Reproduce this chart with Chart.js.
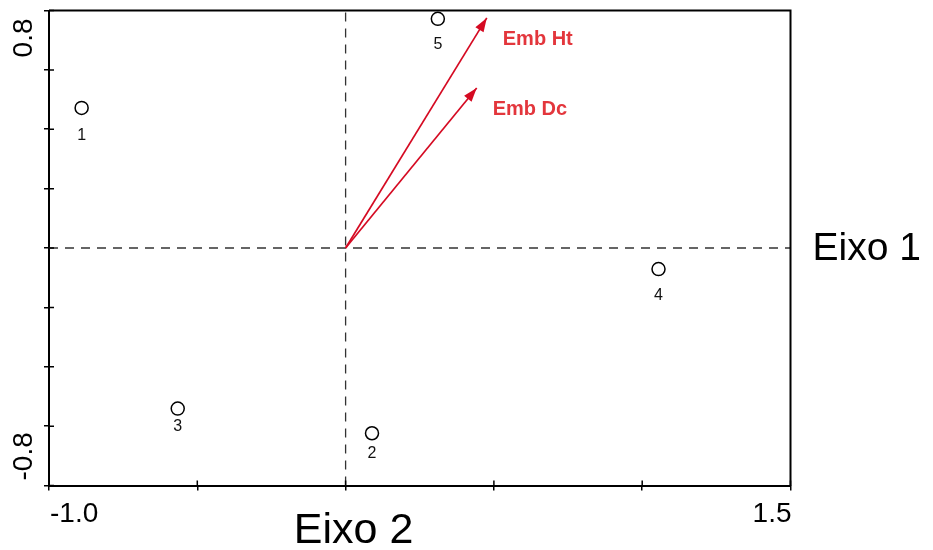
<!DOCTYPE html>
<html>
<head>
<meta charset="utf-8">
<title>Eixo 1 x Eixo 2</title>
<script src="https://cdn.jsdelivr.net/npm/chart.js"></script>
<style>
  html, body { margin: 0; padding: 0; background: #fff; }
  #wrap { width: 933px; height: 550px; position: relative; }
</style>
</head>
<body>
<div id="wrap"><canvas id="biplot"></canvas></div>
<script>
// samples (open circles)
const sampleLabels = ['1', '2', '3', '4', '5'];
const sampleX = [-0.890, 0.089, -0.566, 1.055, 0.311];
const sampleY = [0.472, -0.624, -0.541, -0.071, 0.772];

// variables (arrows from origin)
const varNames = ['Emb Ht', 'Emb Dc'];
const varX = [0.476, 0.442];
const varY = [0.775, 0.539];

// axes
const xMin = -1.0, xMax = 1.5;
const yMin = -0.8, yMax = 0.8;
const xTicks = [-1.0, -0.5, 0, 0.5, 1.0, 1.5];
const yTicks = [-0.8, -0.6, -0.4, -0.2, 0, 0.2, 0.4, 0.6, 0.8];
const xTickLabels = ['-1.0', '1.5'];
const yTickLabels = ['-0.8', '0.8'];
const axisTitles = ['Eixo 1', 'Eixo 2'];

const FONT = '"Liberation Sans", Arial, sans-serif';
const ARROW_RED = '#d50a22';
const LABEL_RED = '#e3363c';

const arrowSets = varNames.map((name, i) => ({
  label: name,
  type: 'line',
  data: [{ x: 0, y: 0 }, { x: varX[i], y: varY[i] }],
  borderColor: ARROW_RED,
  borderWidth: 1.7,
  pointRadius: 0,
  fill: false,
  clip: false
}));

const zeroLine = (pts) => ({
  type: 'line',
  data: pts,
  borderColor: '#333',
  borderWidth: 1.3,
  borderDash: [9, 7],
  pointRadius: 0,
  fill: false,
  clip: false
});

const biplotDecor = {
  id: 'biplotDecor',
  afterDatasetsDraw(chart) {
    const { ctx, chartArea: area, scales: { x, y } } = chart;
    ctx.save();

    // frame: top and right
    ctx.strokeStyle = '#000';
    ctx.lineWidth = 2;
    ctx.beginPath();
    ctx.moveTo(area.left, area.top);
    ctx.lineTo(area.right, area.top);
    ctx.lineTo(area.right, area.bottom);
    ctx.stroke();

    // inner half of the tick marks
    ctx.lineWidth = 1.5;
    ctx.beginPath();
    xTicks.forEach(v => {
      const px = x.getPixelForValue(v);
      ctx.moveTo(px, area.bottom);
      ctx.lineTo(px, area.bottom - 5);
    });
    yTicks.forEach(v => {
      const py = y.getPixelForValue(v);
      ctx.moveTo(area.left, py);
      ctx.lineTo(area.left + 5, py);
    });
    ctx.stroke();

    // arrow heads
    const arrowMetas = chart.getSortedVisibleDatasetMetas().filter(m => varNames.includes(m.label));
    arrowMetas.forEach(meta => {
      const p0 = meta.data[0], p1 = meta.data[1];
      const ang = Math.atan2(p1.y - p0.y, p1.x - p0.x);
      const len = 14, half = 4.8;
      ctx.save();
      ctx.translate(p1.x, p1.y);
      ctx.rotate(ang);
      ctx.fillStyle = ARROW_RED;
      ctx.beginPath();
      ctx.moveTo(0, 0);
      ctx.lineTo(-len, -half);
      ctx.lineTo(-len, half);
      ctx.closePath();
      ctx.fill();
      ctx.restore();

      ctx.fillStyle = LABEL_RED;
      ctx.font = 'bold 20px ' + FONT;
      ctx.textAlign = 'left';
      ctx.textBaseline = 'alphabetic';
      ctx.fillText(meta.label, p1.x + 16, p1.y + 27);
    });

    // sample labels under the circles
    const offsets = [28, 20, 18, 27, 26];
    const pts = chart.getDatasetMeta(0).data;
    ctx.fillStyle = '#111';
    ctx.font = '16px ' + FONT;
    ctx.textAlign = 'center';
    ctx.textBaseline = 'middle';
    pts.forEach((p, i) => ctx.fillText(sampleLabels[i], p.x, p.y + offsets[i]));

    // tick labels at the axis ends
    ctx.fillStyle = '#000';
    ctx.font = '28px ' + FONT;
    ctx.textBaseline = 'alphabetic';
    ctx.textAlign = 'left';
    ctx.fillText(xTickLabels[0], x.getPixelForValue(xMin) + 1, area.bottom + 36);
    ctx.textAlign = 'right';
    ctx.fillText(xTickLabels[1], x.getPixelForValue(xMax) + 1, area.bottom + 36);

    const rotText = (txt, py, align) => {
      ctx.save();
      ctx.translate(area.left - 17, py);
      ctx.rotate(-Math.PI / 2);
      ctx.textAlign = align;
      ctx.fillText(txt, 0, 0);
      ctx.restore();
    };
    rotText(yTickLabels[1], y.getPixelForValue(yMax) + 8, 'right');
    rotText(yTickLabels[0], y.getPixelForValue(yMin) - 5, 'left');

    // axis titles
    ctx.font = '39px ' + FONT;
    ctx.textAlign = 'left';
    ctx.fillText(axisTitles[0], area.right + 22, y.getPixelForValue(0) + 12);
    ctx.font = '43px ' + FONT;
    ctx.textAlign = 'center';
    ctx.fillText(axisTitles[1], x.getPixelForValue(0) + 8, area.bottom + 57);

    ctx.restore();
  }
};

new Chart(document.getElementById('biplot'), {
  type: 'scatter',
  data: {
    datasets: [
      {
        label: 'samples',
        data: sampleX.map((v, i) => ({ x: v, y: sampleY[i] })),
        pointStyle: 'circle',
        pointRadius: 6.5,
        pointBorderWidth: 1.5,
        pointBorderColor: '#000',
        pointBackgroundColor: '#fff',
        showLine: false,
        clip: false
      },
      ...arrowSets,
      zeroLine([{ x: xMin, y: 0 }, { x: xMax, y: 0 }]),
      zeroLine([{ x: 0, y: yMin }, { x: 0, y: yMax }])
    ]
  },
  options: {
    responsive: true,
    maintainAspectRatio: false,
    animation: false,
    layout: { padding: { left: 44, right: 142.5, top: 10.5, bottom: 59.5 } },
    plugins: { legend: { display: false }, tooltip: { enabled: false } },
    scales: {
      x: {
        type: 'linear',
        min: xMin,
        max: xMax,
        afterBuildTicks: s => { s.ticks = xTicks.map(v => ({ value: v })); },
        ticks: { display: false },
        grid: { drawOnChartArea: false, drawTicks: true, tickLength: 5, color: '#000', lineWidth: 1.5 },
        border: { display: true, color: '#000', width: 2 }
      },
      y: {
        type: 'linear',
        min: yMin,
        max: yMax,
        afterBuildTicks: s => { s.ticks = yTicks.map(v => ({ value: v })); },
        ticks: { display: false },
        grid: { drawOnChartArea: false, drawTicks: true, tickLength: 5, color: '#000', lineWidth: 1.5 },
        border: { display: true, color: '#000', width: 2 }
      }
    }
  },
  plugins: [biplotDecor]
});
</script>
</body>
</html>
